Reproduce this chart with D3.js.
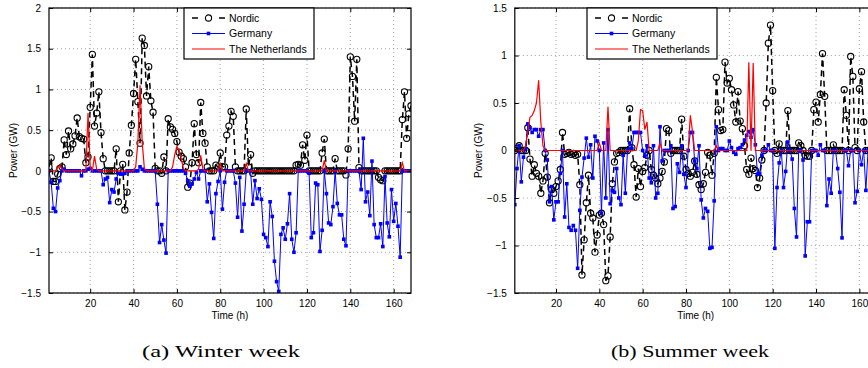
<!DOCTYPE html>
<html><head><meta charset="utf-8">
<script src="https://cdn.jsdelivr.net/npm/d3@7"></script>
<style>
body{margin:0;background:#fff;}
svg{display:block;}
svg text{font-family:"Liberation Sans",Arial,sans-serif;}
svg text.cap{font-family:"Liberation Serif","Times New Roman",serif;}
</style></head>
<body><svg id="c" width="868" height="368"></svg>
<script>
const hours = d3.range(1, 169);
const xTicks = [20,40,60,80,100,120,140,160];
const yTicksWinter = [-1.5,-1,-0.5,0,0.5,1,1.5,2];
const yTicksSummer = [-1.5,-1,-0.5,0,0.5,1,1.5];
const seriesNames = ["Nordic","Germany","The Netherlands"];
const captions = ["(a) Winter week","(b) Summer week"];

const winterNordic = [
0.05,0.16,-0.13,-0.13,-0.04,0.03,0.05,0.38,0.20,0.49,0.27,0.33,
0.43,0.65,0.42,0.40,0.39,0.10,0.17,0.78,1.43,0.55,0.71,0.97,
0.47,0.15,0,0,0,0,0,0.27,-0.38,0,0.08,-0.48,
-0.26,0.22,0.56,0.95,1.37,0.85,0.34,1.63,1.54,0.92,1.28,0.86,
0.72,0.03,0,0,-0.03,0.17,0,0.64,0.54,0.51,0.46,0.36,
0.23,0.18,0.15,0.05,-0.20,-0.15,0.10,0.58,0.20,0.10,0.84,0.46,
0.34,0.05,0,0,0,0.07,0.05,0.22,0.05,0.05,0.44,0.55,
0.73,0.67,0.05,0,0,0,0,0.76,0.05,0.20,-0.03,0,
0,0,0,0,0,0,0,0,0,0,0,0,
0,0,0,0,0,0,0.07,0.08,0.07,0.32,0.13,0.44,
0,0,0,0,0,0,0.22,0.39,0,0,0,0,
0.15,0,0,0,0,-0.05,0.27,1.40,1.16,0.61,1.37,0.04,
0,0,0,0,0,0,0,0,-0.08,-0.11,-0.12,0,
0,0,0,0,0,0,0,0.63,0.97,0.40,0.70,0.80];

const winterGermany = [
0,-0.14,-0.46,-0.50,-0.21,-0.12,0,0.02,0,0,0,0,
0,0,0,-0.06,0,0,0.02,0.03,0,0,0,0,
0,-0.17,-0.10,-0.08,-0.39,-0.23,-0.26,-0.10,-0.03,-0.04,-0.04,-0.03,
0,0,0,0,0,0,0.05,0.02,0,0,0,0,
0,0,-0.41,-0.88,-0.66,-0.85,-1.01,0,0,0,0,0,
0,0,0,-0.03,-0.12,-0.19,-0.16,-0.10,-0.02,-0.10,0,0,
0,-0.38,-0.16,-0.51,-0.83,-0.28,-0.13,0,-0.47,-0.14,0,0,
0,0,-0.15,-0.57,-0.08,-0.74,-0.41,0,0,0,-0.41,-0.12,
-0.34,-0.22,-0.35,-0.78,-0.82,-0.93,-0.38,-0.56,-1.11,-1.36,-1.48,-0.78,
-0.70,-0.84,-0.65,-0.28,-0.84,-1.00,-0.76,0,0,0,0,0,
-0.03,-0.82,-0.76,-0.15,-0.17,-0.99,-0.73,0,-0.28,-0.64,-0.66,-0.44,
0,-0.40,-0.54,-0.54,-0.84,-0.92,0,0,0,0,0,0,
-0.23,0.40,-0.38,-0.26,-0.55,0.12,-0.66,-0.82,-0.82,-0.65,-0.93,-0.07,
-0.64,-0.81,-0.23,-0.62,-0.40,-0.68,-1.06,0,0,0,0,0];

const winterNetherlands = [
0,0,0,0,0.04,0.07,0.02,0,0,0,0,0,
0,0,0,0,0,0,0.71,0.05,0,0.18,0.02,0,
0,0,0,0,0,0,0,0,0,0,0,0,
0,0,0,0,0.05,0.35,1.05,0.35,0.03,0,0,0,
0,0,0,0,0,0,0,0,0,0.05,0.20,0.30,
0.25,0.15,0.03,0,0,0,0,0,0,0.02,0.19,0.02,
0,0,0,0,0,0,0,0.09,0,0,0,0,
0,0,0,0,0,0,0,0.09,0,0,0,0,
0,0,0,0,0,0,0,0,0,0,0,0,
0,0,0,0,0,0,0,0,0,0,0,0,
0,0,0,0,0,0,0,0.13,0,0,0,0,
0,0,0,0,0,0,0,0,0,0,0,0,
0,0,0,0,0,0,0,0,0,0,0,0,
0,0,0,0,0,0,0,0.10,0,0,0,0];

const summerNordic = [
0,0.02,0.05,0,0,0,0.24,-0.09,-0.27,-0.15,-0.24,-0.27,
-0.45,-0.32,-0.03,-0.28,-0.55,-0.41,-0.45,-0.38,-0.32,-0.20,0.19,-0.04,
-0.03,-0.02,-0.04,-0.03,-0.05,-0.04,-0.36,-1.31,-0.94,-0.55,-0.26,-0.66,
-0.71,-1.07,-0.89,-0.68,-0.66,-0.78,-1.37,-1.32,-0.91,-0.35,-0.12,-0.03,
-0.02,0,0,0,0,0.44,0.03,-0.15,-0.49,-0.19,-0.38,-0.22,
-0.18,-0.05,0,-0.20,-0.26,-0.29,-0.35,-0.29,-0.22,-0.12,0.23,0.21,
-0.03,0,0,0,0,0.33,-0.06,-0.20,-0.24,-0.27,-0.23,-0.11,
-0.25,-0.36,-0.41,-0.35,-0.23,-0.02,-0.05,-0.26,-0.03,0.77,0.43,0.21,
0.22,0.93,0.71,0.76,0.64,0.48,0.30,0.62,0.31,0.23,0.05,-0.20,
-0.25,-0.08,-0.19,-0.21,-0.39,-0.29,-0.10,0,0.50,1.13,1.32,0.63,
0,-0.03,0.07,0,0,0,0.42,0,0,0,0,0.08,
0.05,0,-0.05,-0.06,-0.06,0,0.43,0.51,0.30,0.59,1.02,0.57,
0,0,0,0.06,0,0,0,0,0.64,0.37,0,0.99,
0.78,0.03,0,0.65,0.83,0.30,0,0,0,0,0,0];

const summerGermany = [
-0.57,-0.19,0.05,-0.33,-0.07,0.02,0.28,0.24,0.19,0.22,0.22,0.15,
0.22,0.22,0,-0.10,-0.54,-0.38,-0.73,-0.54,-0.54,-0.24,0,-0.70,
-0.35,-0.81,-0.84,-0.79,-0.84,-1.24,-0.63,-0.28,-0.08,0.13,-0.07,0.06,
-0.29,0.15,0.10,0,-0.66,0.08,-0.50,0.22,-0.56,-0.42,-0.44,-0.19,
-0.50,-0.57,-0.05,-0.45,0,0.08,0.02,0.19,0.19,0.19,0.19,0,
-0.06,0.05,-0.29,-0.34,0.05,-0.50,-0.45,0.25,-0.11,0,0,0,
0.05,-0.61,-0.59,-0.14,-0.23,0.05,-0.25,-0.39,0,0.19,0.19,-0.11,
-0.19,0.05,-0.52,-0.71,-0.61,-0.64,-1.03,-1.02,-0.53,0.25,0,0.02,
0.02,0,0,0.10,0.03,-0.02,-0.04,0.02,0.03,0.06,0.11,0.16,
0.20,0.14,0.22,0.06,-0.25,-0.24,-0.05,0,0,0.06,0,0,
-1.03,-0.39,-0.13,0,-0.39,-0.22,0.09,0,-0.09,-0.61,-0.91,0,
0,-0.10,-1.11,-0.75,-0.75,0,0,0,-0.05,0.06,0,0,
-0.58,-0.30,-0.45,0,0,-0.19,-0.44,-0.92,0,0,-0.16,0,
0,-0.55,-0.43,0,-0.15,0,-0.42,0,0,0,0,0];

const summerNetherlands = [
0,0,0,0,0,0.05,0.20,0.35,0.37,0.42,0.50,0.74,
0.30,0.05,0,0,0,0,0,0,0,0,0,0,
0,0,0,0,0,0,0,0,0,0,0,0,
0,0,0,0.08,0,0,0,0.46,0,0,0,0,
0,0,0,0,0,0,0,0,0,0.10,0.43,0.42,
0.22,0.30,0,0,0,0,0,0.08,0,0,0,0,
0,0,0,0,0,0,0,0,0,0.37,0.20,0,
0,0,0,0,0,0,0,0,0,0.05,0,0,
0,0,0,0,0,0,0,0,0,0,0,0,
0.93,0,0.92,0,0,0,0,0,0,0,0,0,
0,0,0,0,0,0,0,0,0,0,0,0,
0,0,0,0,0,0,0,0,0,0,0,0,
0,0,0,0,0,0,0,0,0,0,0,0,
0,0,0,0,0,0,0,0,0,0,0,0];

const panels = [
  {x0:49, x1:411, top:8, bottom:293, yDom:[-1.5,2], yTicks:yTicksWinter,
   data:[winterNordic, winterGermany, winterNetherlands], cap:captions[0], capX:221, ylabX:13, leg:184},
  {x0:514.8, x1:876.7, top:8, bottom:293, yDom:[-1.5,1.5], yTicks:yTicksSummer,
   data:[summerNordic, summerGermany, summerNetherlands], cap:captions[1], capX:690, ylabX:478, leg:587}
];

const svg = d3.select("#c");
const fmt = d3.format("~g");
const SANS = "Liberation Sans, Arial, sans-serif";

panels.forEach((p, pi) => {
  const x = d3.scaleLinear().domain([1,168]).range([p.x0, p.x1]);
  const y = d3.scaleLinear().domain(p.yDom).range([p.bottom, p.top]);
  const g = svg.append("g");
  const clipId = "clip" + pi;
  svg.append("clipPath").attr("id", clipId).append("rect")
    .attr("x", p.x0).attr("y", p.top).attr("width", p.x1 - p.x0).attr("height", p.bottom - p.top);

  // grid
  const grid = g.append("g").attr("stroke", "#8a8a8a").attr("stroke-width", 0.8).attr("stroke-dasharray", "1,3");
  xTicks.forEach(t => grid.append("line").attr("x1", x(t)).attr("x2", x(t)).attr("y1", p.top).attr("y2", p.bottom));
  p.yTicks.forEach(v => grid.append("line").attr("x1", p.x0).attr("x2", p.x1).attr("y1", y(v)).attr("y2", y(v)));

  const plot = g.append("g").attr("clip-path", `url(#${clipId})`);
  const line = d3.line().x((d,i) => x(hours[i])).y(d => y(d));

  // Nordic
  plot.append("path").datum(p.data[0]).attr("d", line).attr("fill", "none")
    .attr("stroke", "#000").attr("stroke-width", 1.5).attr("stroke-dasharray", "6,4");
  plot.append("g").selectAll("circle").data(p.data[0]).join("circle")
    .attr("cx", (d,i) => x(hours[i])).attr("cy", d => y(d)).attr("r", 3.1)
    .attr("fill", "none").attr("stroke", "#000").attr("stroke-width", 1.1);
  // Germany
  plot.append("path").datum(p.data[1]).attr("d", line).attr("fill", "none")
    .attr("stroke", "#0000ff").attr("stroke-width", 1);
  plot.append("g").selectAll("rect").data(p.data[1]).join("rect")
    .attr("x", (d,i) => x(hours[i]) - 1.8).attr("y", d => y(d) - 1.8)
    .attr("width", 3.6).attr("height", 3.6).attr("fill", "#0000ff");
  // Netherlands
  plot.append("path").datum(p.data[2]).attr("d", line).attr("fill", "none")
    .attr("stroke", "#ff0000").attr("stroke-width", 1.2);

  // axes
  const ax = g.append("g");
  const styleAx = s => {
    s.attr("font-family", SANS).attr("font-size", 10);
    s.select(".domain").remove();
    s.selectAll("line").attr("stroke","#000");
    s.selectAll("text").attr("fill","#000");
  };
  ax.append("g").attr("transform", `translate(0,${p.bottom})`)
    .call(d3.axisBottom(x).tickValues(xTicks).tickSize(-4).tickPadding(7).tickFormat(fmt)).call(styleAx);
  ax.append("g").attr("transform", `translate(0,${p.top})`)
    .call(d3.axisTop(x).tickValues(xTicks).tickSize(-4).tickFormat("")).call(styleAx);
  ax.append("g").attr("transform", `translate(${p.x0},0)`)
    .call(d3.axisLeft(y).tickValues(p.yTicks).tickSize(-4).tickPadding(8).tickFormat(fmt)).call(styleAx);
  ax.append("g").attr("transform", `translate(${p.x1},0)`)
    .call(d3.axisRight(y).tickValues(p.yTicks).tickSize(-4).tickFormat("")).call(styleAx);
  g.append("rect").attr("x", p.x0).attr("y", p.top).attr("width", p.x1 - p.x0).attr("height", p.bottom - p.top)
    .attr("fill", "none").attr("stroke", "#000").attr("stroke-width", 1.2);

  // labels
  g.append("text").attr("x", (p.x0 + p.x1) / 2).attr("y", 319).attr("text-anchor", "middle")
    .attr("font-size", 10).text("Time (h)");
  g.append("text").attr("transform", `translate(${p.ylabX},${(p.top + p.bottom)/2}) rotate(-90)`)
    .attr("text-anchor", "middle").attr("dy", "0.35em").attr("font-size", 10).text("Power (GW)");
  g.append("text").attr("class", "cap").attr("x", p.capX).attr("y", 357).attr("text-anchor", "middle")
    .attr("font-size", 17).attr("textLength", 158)
    .attr("lengthAdjust", "spacingAndGlyphs").text(p.cap);

  // legend
  const lg = g.append("g").attr("transform", `translate(${p.leg},8)`);
  lg.append("rect").attr("width", 130).attr("height", 51).attr("fill", "#fff").attr("stroke", "#000").attr("stroke-width", 1.2);
  const rowY = [10, 25.5, 41];
  seriesNames.forEach((name, k) => {
    const yy = rowY[k];
    if (k === 0) {
      lg.append("line").attr("x1", 8).attr("x2", 14).attr("y1", yy).attr("y2", yy).attr("stroke", "#000").attr("stroke-width", 1.5);
      lg.append("line").attr("x1", 35).attr("x2", 41).attr("y1", yy).attr("y2", yy).attr("stroke", "#000").attr("stroke-width", 1.5);
      lg.append("circle").attr("cx", 24.5).attr("cy", yy).attr("r", 3.1).attr("fill", "none").attr("stroke", "#000").attr("stroke-width", 1.1);
    } else if (k === 1) {
      lg.append("line").attr("x1", 8).attr("x2", 41).attr("y1", yy).attr("y2", yy).attr("stroke", "#0000ff").attr("stroke-width", 1);
      lg.append("rect").attr("x", 24.5 - 1.8).attr("y", yy - 1.8).attr("width", 3.6).attr("height", 3.6).attr("fill", "#0000ff");
    } else {
      lg.append("line").attr("x1", 8).attr("x2", 41).attr("y1", yy).attr("y2", yy).attr("stroke", "#ff0000").attr("stroke-width", 1.2);
    }
    lg.append("text").attr("x", 45).attr("y", yy).attr("dy", "0.35em").attr("font-size", 10.5).text(name);
  });
});
</script></body></html>
